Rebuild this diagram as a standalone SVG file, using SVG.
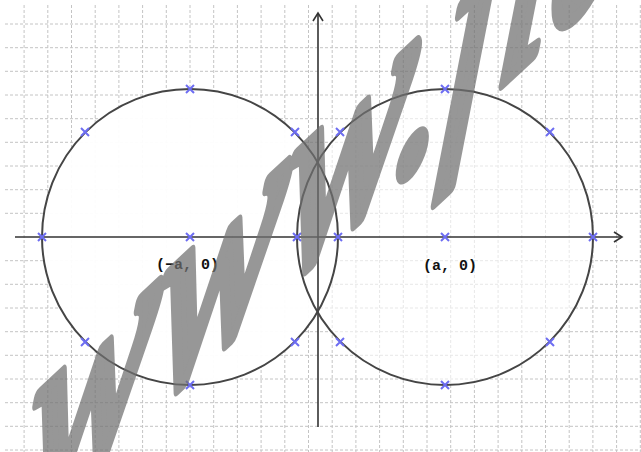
<svg xmlns="http://www.w3.org/2000/svg" width="641" height="452" viewBox="0 0 641 452">
<defs>
<style>
.grid line{stroke:#c4c4c4;stroke-width:1;stroke-dasharray:3 2}
.circ{stroke:#454545;stroke-width:2}
.axis{stroke:#333;stroke-width:1.6;fill:none}
.mk{stroke:#6d6df2;stroke-width:2}
.lbl{font-family:"Liberation Mono",monospace;font-weight:bold;font-size:15px;fill:#111}
.wm{font-family:"Liberation Serif",serif;font-style:italic;font-size:290px;fill:#707070;stroke:#707070;stroke-width:15;stroke-linejoin:round}
</style>
<path id="x" d="M-4,-4L4,4M-4,4L4,-4"/>
</defs>
<rect width="641" height="452" fill="#fff"/>
<g class="grid" id="grid">
<line x1="24.1" y1="5" x2="24.1" y2="452"/><line x1="47.8" y1="5" x2="47.8" y2="452"/><line x1="71.5" y1="5" x2="71.5" y2="452"/><line x1="95.2" y1="5" x2="95.2" y2="452"/><line x1="118.9" y1="5" x2="118.9" y2="452"/><line x1="142.6" y1="5" x2="142.6" y2="452"/><line x1="166.3" y1="5" x2="166.3" y2="452"/><line x1="190" y1="5" x2="190" y2="452"/><line x1="213.7" y1="5" x2="213.7" y2="452"/><line x1="237.4" y1="5" x2="237.4" y2="452"/><line x1="261.1" y1="5" x2="261.1" y2="452"/><line x1="284.8" y1="5" x2="284.8" y2="452"/><line x1="308.5" y1="5" x2="308.5" y2="452"/><line x1="332.2" y1="5" x2="332.2" y2="452"/><line x1="355.9" y1="5" x2="355.9" y2="452"/><line x1="379.6" y1="5" x2="379.6" y2="452"/><line x1="403.3" y1="5" x2="403.3" y2="452"/><line x1="427" y1="5" x2="427" y2="452"/><line x1="450.7" y1="5" x2="450.7" y2="452"/><line x1="474.4" y1="5" x2="474.4" y2="452"/><line x1="498.1" y1="5" x2="498.1" y2="452"/><line x1="521.8" y1="5" x2="521.8" y2="452"/><line x1="545.5" y1="5" x2="545.5" y2="452"/><line x1="569.2" y1="5" x2="569.2" y2="452"/><line x1="592.9" y1="5" x2="592.9" y2="452"/><line x1="616.6" y1="5" x2="616.6" y2="452"/><line x1="640.3" y1="5" x2="640.3" y2="452"/>
<line x1="5" y1="24" x2="641" y2="24"/><line x1="5" y1="47.7" x2="641" y2="47.7"/><line x1="5" y1="71.3" x2="641" y2="71.3"/><line x1="5" y1="95" x2="641" y2="95"/><line x1="5" y1="118.7" x2="641" y2="118.7"/><line x1="5" y1="142.3" x2="641" y2="142.3"/><line x1="5" y1="166" x2="641" y2="166"/><line x1="5" y1="189.7" x2="641" y2="189.7"/><line x1="5" y1="213.3" x2="641" y2="213.3"/><line x1="5" y1="260.7" x2="641" y2="260.7"/><line x1="5" y1="284.3" x2="641" y2="284.3"/><line x1="5" y1="308" x2="641" y2="308"/><line x1="5" y1="331.7" x2="641" y2="331.7"/><line x1="5" y1="355.3" x2="641" y2="355.3"/><line x1="5" y1="379" x2="641" y2="379"/><line x1="5" y1="402.7" x2="641" y2="402.7"/><line x1="5" y1="426.3" x2="641" y2="426.3"/><line x1="5" y1="450" x2="641" y2="450"/>
</g>
<g id="fills">
<circle cx="445" cy="237" r="148" fill="#fff" fill-opacity="0.6"/>
<circle cx="190" cy="237" r="148" fill="#fff" fill-opacity="0.95"/>
</g>
<g id="connectors">
<line class="axis" x1="15" y1="237" x2="622" y2="237"/>
<path class="axis" d="M614,232L622,237L614,242"/>
<line class="axis" x1="318" y1="427" x2="318" y2="13"/>
<path class="axis" d="M313,21L318,13L323,21"/>
</g>
<g id="circle-left">
<circle class="circ" cx="190" cy="237" r="148" fill="none"/>
</g>
<g id="circle-right">
<circle class="circ" cx="445" cy="237" r="148" fill="none"/>
</g>
<g id="markers" class="mk">
<use href="#x" x="190" y="89"/><use href="#x" x="190" y="385"/><use href="#x" x="42" y="237"/><use href="#x" x="338" y="237"/><use href="#x" x="190" y="237"/>
<use href="#x" x="85" y="132"/><use href="#x" x="295" y="132"/><use href="#x" x="85" y="342"/><use href="#x" x="295" y="342"/>
<use href="#x" x="445" y="89"/><use href="#x" x="445" y="385"/><use href="#x" x="297" y="237"/><use href="#x" x="593" y="237"/><use href="#x" x="445" y="237"/>
<use href="#x" x="340" y="132"/><use href="#x" x="550" y="132"/><use href="#x" x="340" y="342"/><use href="#x" x="550" y="342"/>
</g>
<g id="labels">
<text class="lbl" x="156" y="269">(−a, 0)</text>
<text class="lbl" x="423" y="270">(a, 0)</text>
</g>
<g id="watermark" opacity="0.72">
<text class="wm" x="0" y="0" transform="matrix(0.665 -0.62 -0.1 1 20 533)">www.fla</text>
</g>
</svg>
